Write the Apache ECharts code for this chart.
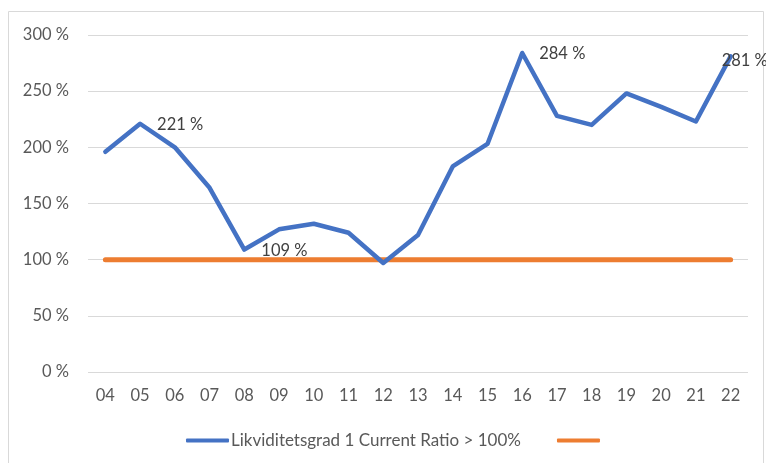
<!DOCTYPE html>
<html lang="no">
<head>
    <meta charset="UTF-8">
    <script src="https://cdn.jsdelivr.net/npm/echarts@6/dist/echarts.min.js"></script>
    <title>Likviditetsgrad</title>
    <style>
        html, body { margin: 0; padding: 0; background: #fff; }
        #chart { width: 766px; height: 463px; }
    </style>
</head>
<body>
    <div id="chart"></div>
<script>
    // data
    var years = ['04','05','06','07','08','09','10','11','12','13','14','15','16','17','18','19','20','21','22'];
    var ratio = [196, 221, 200, 164, 109, 127, 132, 124, 97, 122, 183, 203, 284, 228, 220, 248, 236, 223, 281];
    var limit = [100, 100, 100, 100, 100, 100, 100, 100, 100, 100, 100, 100, 100, 100, 100, 100, 100, 100, 100];
    var labelled = ['05', '08', '16', '22'];
    var ratioName = 'Likviditetsgrad 1 Current Ratio > 100%';

    var font = 'Lato, "Open Sans", sans-serif';

    var ratioData = ratio.map(function (v, i) {
        var d = { value: v };
        if (labelled.indexOf(years[i]) >= 0) {
            d.label = {
                show: true,
                position: 'right',
                offset: years[i] === '22' ? [-14, 4] : [12, 1]
            };
        }
        return d;
    });

    var myChart = echarts.init(document.getElementById('chart'));
    myChart.setOption({
        animation: false,
        textStyle: { fontFamily: font },
        graphic: [{
            type: 'rect',
            shape: { x: 8.5, y: 11.5, width: 755, height: 460 },
            style: { fill: 'none', stroke: '#d9d9d9', lineWidth: 1 },
            silent: true
        }],
        grid: { left: 88, right: 18, top: 35, bottom: 91 },
        legend: {
            bottom: 9,
            left: 181,
            itemWidth: 43,
            itemHeight: 4,
            itemGap: 36,
            icon: 'roundRect',
            textStyle: { fontSize: 17, color: '#595959', fontFamily: font, padding: [0, 0, 0, -3] },
            formatter: function (name) { return name === 'limit' ? '' : name; },
            data: [ratioName, 'limit']
        },
        xAxis: {
            type: 'category',
            data: years,
            axisLine: { show: false },
            axisTick: { show: false },
            axisLabel: { color: '#595959', fontSize: 16.5, margin: 15 }
        },
        yAxis: {
            type: 'value',
            min: 0,
            max: 300,
            interval: 50,
            axisLabel: { formatter: '{value} %', color: '#595959', fontSize: 16.5, margin: 19 },
            splitLine: { lineStyle: { color: '#d9d9d9', width: 1 } }
        },
        series: [{
            name: ratioName,
            type: 'line',
            data: ratioData,
            symbol: 'circle',
            symbolSize: 0,
            showSymbol: true,
            color: '#4472C4',
            lineStyle: { width: 4.5, color: '#4472C4', cap: 'round', join: 'round' },
            label: {
                show: false,
                formatter: '{c} %',
                color: '#404040',
                fontSize: 16.5,
                fontFamily: font
            },
            z: 3
        }, {
            name: 'limit',
            type: 'line',
            data: limit,
            symbol: 'none',
            color: '#ED7D31',
            lineStyle: { width: 5, color: '#ED7D31', cap: 'round' },
            z: 2
        }]
    });
</script>
</body>
</html>
